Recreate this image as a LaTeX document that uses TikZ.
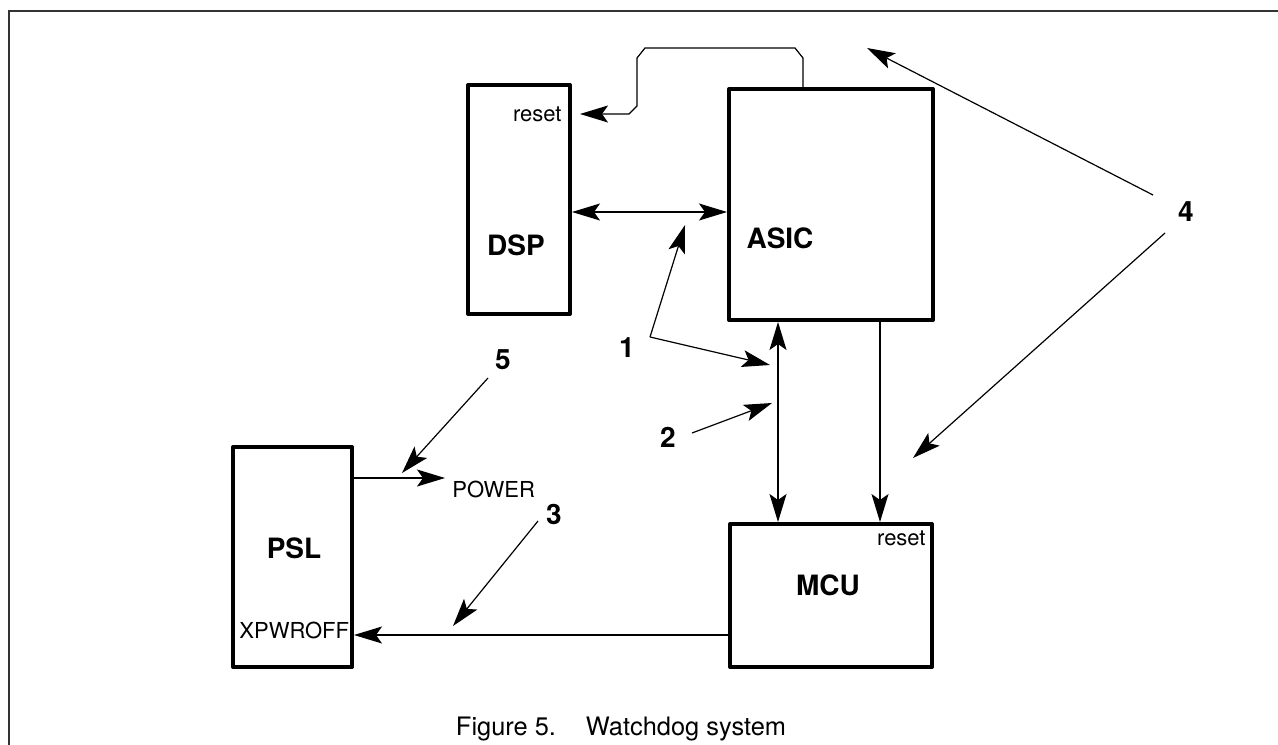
\documentclass[tikz,border=0pt]{standalone}
\usepackage{fontspec}
\setmainfont{TeX Gyre Heros}
\usetikzlibrary{arrows.meta}

\begin{document}
\begin{tikzpicture}[x=0.5pt,y=-0.5pt,
    unit/.style={draw, line width=2pt, line join=round, inner sep=0pt, anchor=north west},
    title/.style={font=\fontsize{14}{16}\selectfont\bfseries},
    num/.style={font=\fontsize{14}{16}\selectfont\bfseries},
    pin/.style={font=\fontsize{11}{13}\selectfont, inner sep=0pt},
    sig/.style={line width=0.6pt, -{Stealth[length=14pt,width=8.5pt,inset=3pt]}},
    bus/.style={line width=0.6pt, {Stealth[length=14pt,width=8.5pt,inset=3pt]}-{Stealth[length=14pt,width=8.5pt,inset=3pt]}}]
    \useasboundingbox (0,0) rectangle (1278,744);
    \clip (0,0) rectangle (1278,744);
    % frame
    \draw[line width=0.8pt, black!80] (9,800) -- (9,11) -- (1300,11);
    % blocks
    \node[unit, minimum width=51pt, minimum height=114.5pt] (dsp) at (466,83) {};
    \node[unit, minimum width=102pt, minimum height=115.5pt] (asic) at (727,87) {};
    \node[unit, minimum width=101pt, minimum height=71.5pt] (mcu) at (728,522) {};
    \node[unit, minimum width=59.5pt, minimum height=110pt] (psl) at (231,445) {};
    \node[title] (dsplbl) at (516,245) {DSP};
    \node[title] (asiclbl) at (780,238) {ASIC};
    \node[title] (mculbl) at (828,585) {MCU};
    \node[title] (psllbl) at (294,548) {PSL};
    \node[pin, anchor=east] (dspreset) at (562,114) {reset};
    \node[pin, anchor=east] (mcureset) at (926,538) {reset};
    \node[pin, anchor=west] (xpwroff) at (239,630) {XPWROFF};
    \node[pin, anchor=west] (power) at (452,489) {POWER};
    % signal levels
    \coordinate (wdtop) at (803,48);
    \coordinate (busy) at (0,212);
    \coordinate (busx) at (778,0);
    \coordinate (rstx) at (880,0);
    \coordinate (pwry) at (0,478);
    \coordinate (offy) at (0,635);
    % connections
    \draw[sig, shorten >=4pt] (asic.north -| wdtop) -- (wdtop |- 0,58) -- ++(-8,-10)
        -- (645,48) -- (637,58) -- (637,106) -- (629,114) -- (dsp.east |- dspreset);
    \draw[bus] (dsp.east |- busy) -- (asic.west |- busy);
    \draw[bus] (asic.south -| busx) -- (mcu.north -| busx);
    \draw[sig] (asic.south -| rstx) -- (mcu.north -| rstx);
    \draw[sig] (psl.east |- pwry) -- (445,478);
    \draw[sig] (mcu.west |- offy) -- (psl.east |- offy);
    % callouts
    \node[num] (n1) at (627,348) {1};
    \node[num] (n2) at (668,437) {2};
    \node[num] (n3) at (554,514) {3};
    \node[num] (n4) at (1186,212) {4};
    \node[num] (n5) at (503,360) {5};
    \coordinate (c1) at (650,337);
    \coordinate (t1a) at (685,225);
    \coordinate (t1b) at (770,365);
    \coordinate (t2) at (772,403);
    \coordinate (t3) at (453,626);
    \coordinate (t4a) at (867,48);
    \coordinate (t4b) at (913,458);
    \coordinate (t5) at (402,473);
    \draw[sig] (c1) -- (t1a);
    \draw[sig] (c1) -- (t1b);
    \draw[sig] (692,433) -- (t2);
    \draw[sig] (538,521) -- (t3);
    \draw[sig] (1153,195) -- (t4a);
    \draw[sig] (1165,233) -- (t4b);
    \draw[sig] (488,378) -- (t5);
    % caption
    \node[font=\fontsize{12.7}{15}\selectfont, anchor=base] (caption) at (621,735) {Figure 5.\hspace{15pt}Watchdog system};
\end{tikzpicture}
\end{document}
